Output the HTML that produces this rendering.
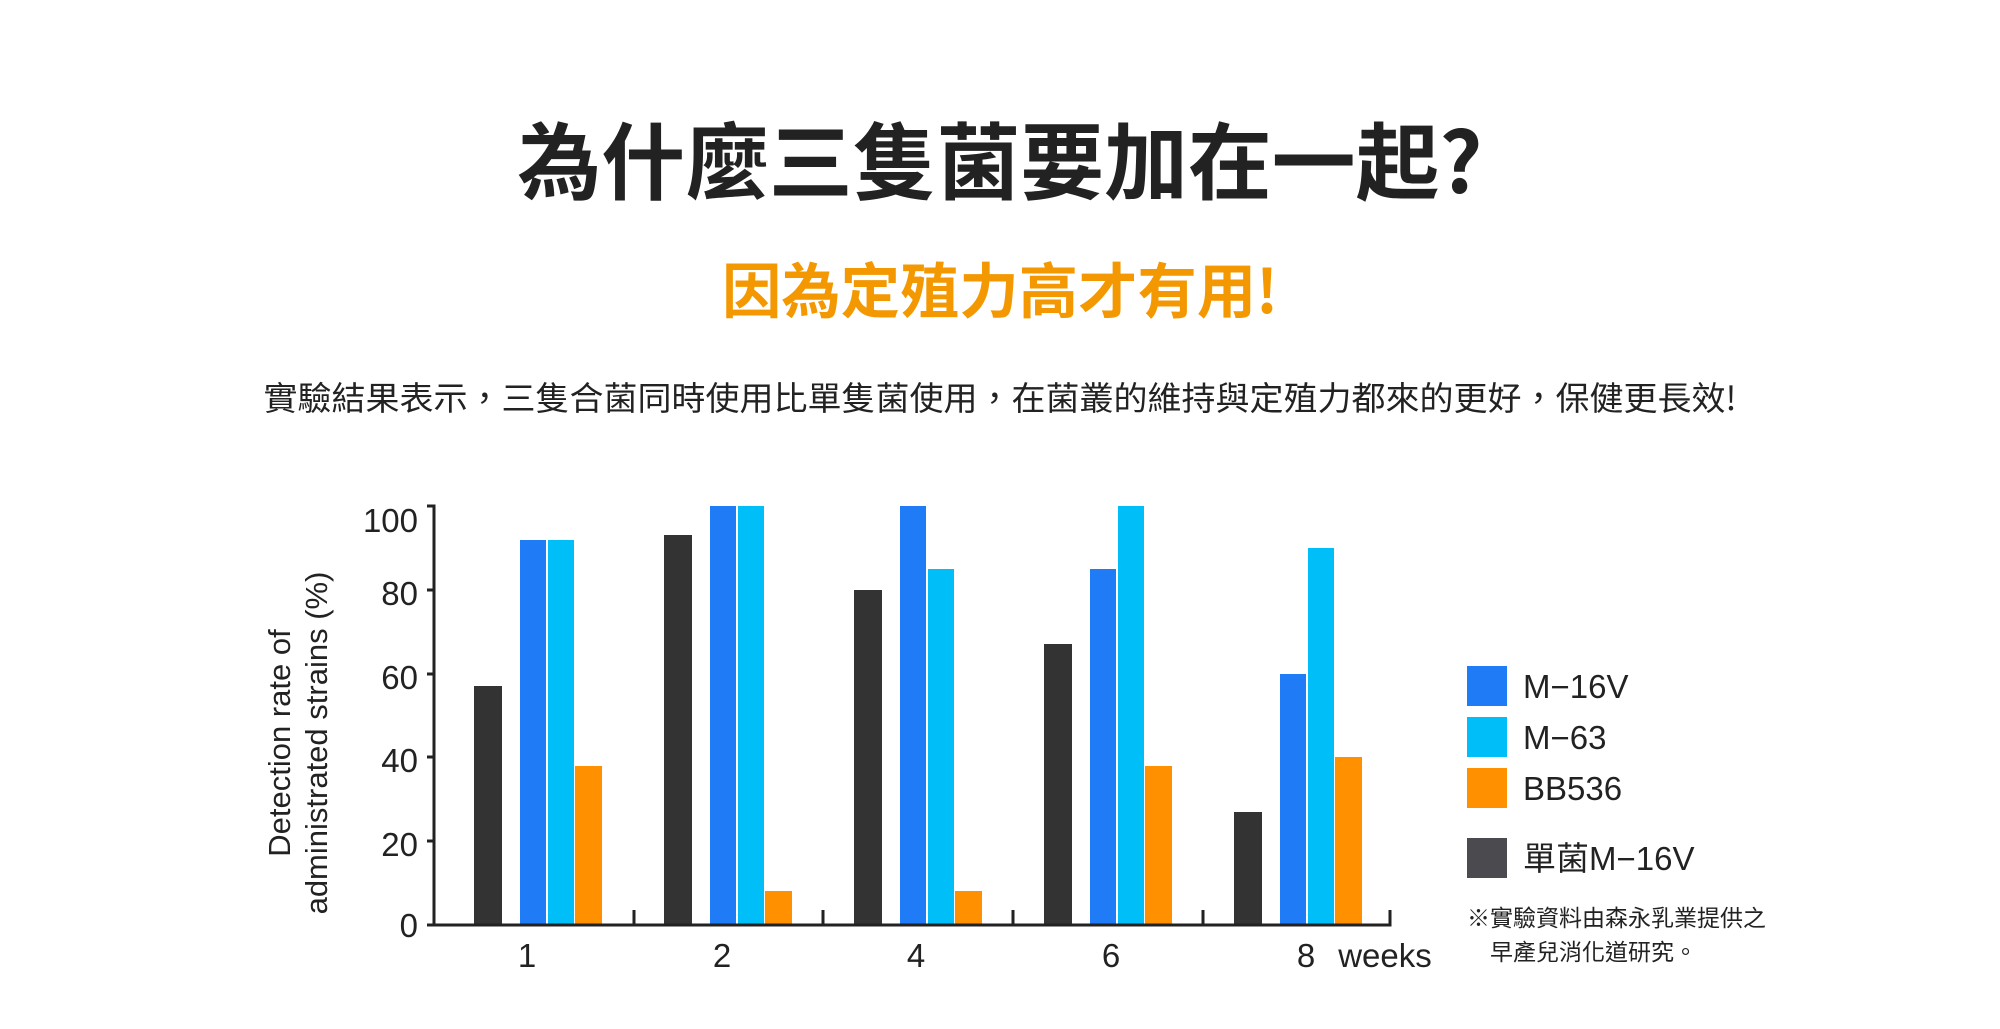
<!DOCTYPE html>
<html><head><meta charset="utf-8"><style>
html,body{margin:0;padding:0;background:#fff;}
svg{display:block}
</style></head><body>
<svg width="2000" height="1029" viewBox="0 0 2000 1029" xmlns="http://www.w3.org/2000/svg">
<g font-family="'Liberation Sans','Noto Sans CJK TC',sans-serif" text-anchor="middle">
<text x="1000" y="193" font-size="84" font-weight="bold" fill="#222" font-family="'Noto Sans CJK TC',sans-serif" textLength="965" lengthAdjust="spacingAndGlyphs">為什麼三隻菌要加在一起?</text>
<text x="1000" y="313" font-size="60" font-weight="bold" fill="#f39800" font-family="'Noto Sans CJK TC',sans-serif" textLength="556" lengthAdjust="spacingAndGlyphs">因為定殖力高才有用!</text>
<text x="1000" y="410" font-size="33" fill="#222" font-family="'Noto Sans CJK TC',sans-serif" textLength="1473" lengthAdjust="spacingAndGlyphs">實驗結果表示，三隻合菌同時使用比單隻菌使用，在菌叢的維持與定殖力都來的更好，保健更長效!</text>
</g>
<g fill="#333">
<rect x="474" y="686" width="28" height="239"/>
<rect x="664" y="535" width="28" height="390"/>
<rect x="854" y="590" width="28" height="335"/>
<rect x="1044" y="644" width="28" height="281"/>
<rect x="1234" y="812" width="28" height="113"/>
</g>
<g fill="#1f7bf6">
<rect x="520" y="540" width="26" height="385"/>
<rect x="710" y="506" width="26" height="419"/>
<rect x="900" y="506" width="26" height="419"/>
<rect x="1090" y="569" width="26" height="356"/>
<rect x="1280" y="674" width="26" height="251"/>
</g>
<g fill="#00bff8">
<rect x="548" y="540" width="26" height="385"/>
<rect x="738" y="506" width="26" height="419"/>
<rect x="928" y="569" width="26" height="356"/>
<rect x="1118" y="506" width="26" height="419"/>
<rect x="1308" y="548" width="26" height="377"/>
</g>
<g fill="#ff9100">
<rect x="575" y="766" width="27" height="159"/>
<rect x="765" y="891" width="27" height="34"/>
<rect x="955" y="891" width="27" height="34"/>
<rect x="1145" y="766" width="27" height="159"/>
<rect x="1335" y="757" width="27" height="168"/>
</g>
<g stroke="#222" stroke-width="3" fill="none">
<path d="M427 506 H434 V925 H1390 V910"/>
<path d="M427 590 H434 M427 674 H434 M427 757 H434 M427 841 H434 M427 925 H434"/>
<path d="M634 925 V910 M823 925 V910 M1013 925 V910 M1203 925 V910"/>
</g>
<g font-family="'Liberation Sans',sans-serif" font-size="33" fill="#222" text-anchor="end">
<text x="418" y="532">100</text>
<text x="418" y="605">80</text>
<text x="418" y="689">60</text>
<text x="418" y="772">40</text>
<text x="418" y="856">20</text>
<text x="418" y="937">0</text>
</g>
<g font-family="'Liberation Sans',sans-serif" font-size="33" fill="#222" text-anchor="middle">
<text x="527" y="967">1</text>
<text x="722" y="967">2</text>
<text x="916" y="967">4</text>
<text x="1111" y="967">6</text>
<text x="1306" y="967">8</text>
<text x="1385" y="967">weeks</text>
</g>
<g font-family="'Liberation Sans',sans-serif" font-size="31" fill="#222" text-anchor="middle">
<text transform="translate(290,743) rotate(-90)">Detection rate of</text>
<text transform="translate(327,743) rotate(-90)">administrated strains (%)</text>
</g>
<rect x="1467" y="666" width="40" height="40" fill="#1f7bf6"/>
<rect x="1467" y="717" width="40" height="40" fill="#00bff8"/>
<rect x="1467" y="768" width="40" height="40" fill="#ff9100"/>
<rect x="1467" y="838" width="40" height="40" fill="#4a4a4f"/>
<g font-family="'Liberation Sans','Noto Sans CJK TC',sans-serif" font-size="33" fill="#222">
<text x="1523" y="698">M−16V</text>
<text x="1523" y="749">M−63</text>
<text x="1523" y="800">BB536</text>
<text x="1523" y="870">單菌M−16V</text>
</g>
<g font-family="'Noto Sans CJK TC',sans-serif" font-size="23" fill="#222">
<text x="1467" y="926">※實驗資料由森永乳業提供之</text>
<text x="1490" y="960">早產兒消化道研究。</text>
</g>
</svg>
</body></html>
